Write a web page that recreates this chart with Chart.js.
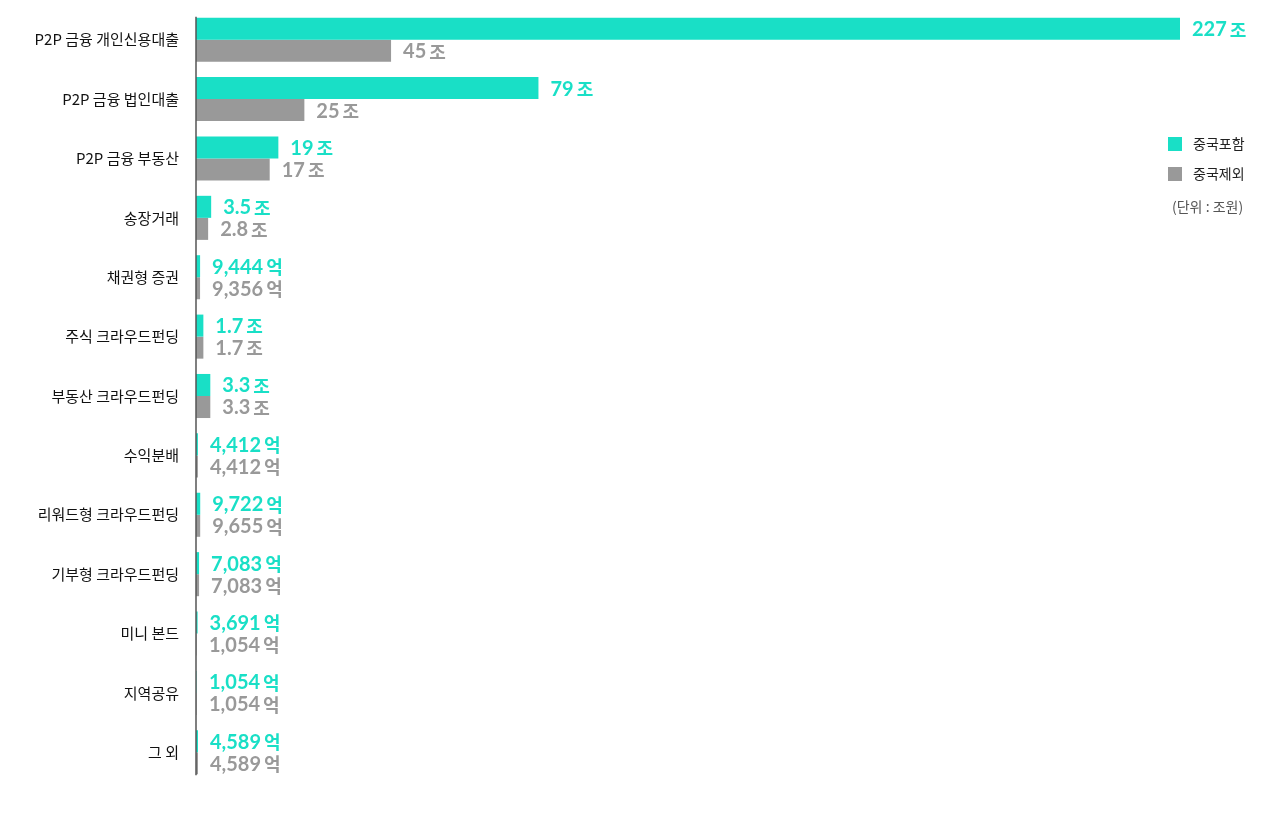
<!DOCTYPE html>
<html>
<head>
<meta charset="utf-8">
<script src="https://cdn.jsdelivr.net/npm/chart.js@4/dist/chart.umd.min.js"></script>
<style>
  html, body { margin: 0; padding: 0; background: #fff; }
  #wrap { position: relative; width: 1280px; height: 813px; }
</style>
</head>
<body>
<div id="wrap"><canvas id="chart"></canvas></div>
<script>
// values in 조원 (억 values converted: 1조 = 10,000억)
const categories = ['P2P 금융 개인신용대출', 'P2P 금융 법인대출', 'P2P 금융 부동산', '송장거래', '채권형 증권',
  '주식 크라우드펀딩', '부동산 크라우드펀딩', '수익분배', '리워드형 크라우드펀딩', '기부형 크라우드펀딩',
  '미니 본드', '지역공유', '그 외'];
const withChina = [227, 79, 19, 3.5, 0.9444, 1.7, 3.3, 0.4412, 0.9722, 0.7083, 0.3691, 0.1054, 0.4589];
const withoutChina = [45, 25, 17, 2.8, 0.9356, 1.7, 3.3, 0.4412, 0.9655, 0.7083, 0.1054, 0.1054, 0.4589];
const withChinaLabels = ['227 조', '79 조', '19 조', '3.5 조', '9,444 억', '1.7 조', '3.3 조', '4,412 억',
  '9,722 억', '7,083 억', '3,691 억', '1,054 억', '4,589 억'];
const withoutChinaLabels = ['45 조', '25 조', '17 조', '2.8 조', '9,356 억', '1.7 조', '3.3 조', '4,412 억',
  '9,655 억', '7,083 억', '1,054 억', '1,054 억', '4,589 억'];
const seriesNames = ['중국포함', '중국제외'];
const unitNote = '(단위 : 조원)';

const teal = '#19DFC6';
const grey = '#999999';

const valueLabels = {
  id: 'valueLabels',
  afterDatasetsDraw(chart) {
    const ctx = chart.ctx;
    ctx.save();
    ctx.textBaseline = 'middle';
    ctx.textAlign = 'left';
    const lists = [withChinaLabels, withoutChinaLabels];
    chart.data.datasets.forEach((ds, i) => {
      const meta = chart.getDatasetMeta(i);
      ctx.fillStyle = ds.backgroundColor;
      meta.data.forEach((bar, j) => {
        const parts = lists[i][j].split(' ');
        let x = Math.max(bar.x, 197) + 12;
        ctx.font = 'bold 20px Lato, sans-serif';
        ctx.fillText(parts[0], x, bar.y + 1);
        x += ctx.measureText(parts[0]).width + 3;
        ctx.font = 'bold 18px "Noto Sans CJK KR", sans-serif';
        ctx.fillText(parts[1], x, bar.y + 1);
      });
    });
    ctx.restore();
  }
};

const axisLine = {
  id: 'axisLine',
  afterDatasetsDraw(chart) {
    const ctx = chart.ctx;
    const first = chart.getDatasetMeta(0).data[0];
    const last = chart.getDatasetMeta(1).data[categories.length - 1];
    const x = chart.scales.x.getPixelForValue(0);
    ctx.save();
    ctx.strokeStyle = '#555';
    ctx.lineWidth = 1.5;
    ctx.beginPath();
    ctx.moveTo(x, first.y - first.height / 2 - 1);
    ctx.lineTo(x, last.y + last.height / 2 + 1);
    ctx.stroke();
    ctx.restore();
  }
};

const sideLegend = {
  id: 'sideLegend',
  afterDraw(chart) {
    const ctx = chart.ctx;
    ctx.save();
    ctx.font = '14px "Noto Sans CJK KR", sans-serif';
    ctx.textBaseline = 'middle';
    ctx.textAlign = 'left';
    const colors = [teal, grey];
    seriesNames.forEach((name, i) => {
      const y = 144 + i * 30;
      ctx.fillStyle = colors[i];
      ctx.fillRect(1168, y - 7, 14, 14);
      ctx.fillStyle = '#222';
      ctx.fillText(name, 1193, y);
    });
    ctx.fillStyle = '#555';
    ctx.fillText(unitNote, 1172, 207);
    ctx.restore();
  }
};

new Chart(document.getElementById('chart'), {
  type: 'bar',
  data: {
    labels: categories,
    datasets: [
      { label: seriesNames[0], data: withChina, backgroundColor: teal },
      { label: seriesNames[1], data: withoutChina, backgroundColor: grey }
    ]
  },
  options: {
    indexAxis: 'y',
    responsive: true,
    maintainAspectRatio: false,
    animation: false,
    categoryPercentage: 0.742,
    barPercentage: 1,
    layout: { padding: { top: 10, bottom: 31, right: 100, left: 0 } },
    plugins: { legend: { display: false }, tooltip: { enabled: false } },
    scales: {
      x: {
        display: false,
        min: 0,
        max: 227
      },
      y: {
        grid: { display: false, drawTicks: false },
        border: { display: false },
        afterFit(scale) {
          scale.width = 196;
          scale.paddingTop = 0;
          scale.paddingBottom = 0;
        },
        ticks: {
          color: '#111',
          padding: 17,
          font: { family: '"Noto Sans CJK KR", sans-serif', size: 15 }
        }
      }
    }
  },
  plugins: [valueLabels, axisLine, sideLegend]
});
</script>
</body>
</html>
